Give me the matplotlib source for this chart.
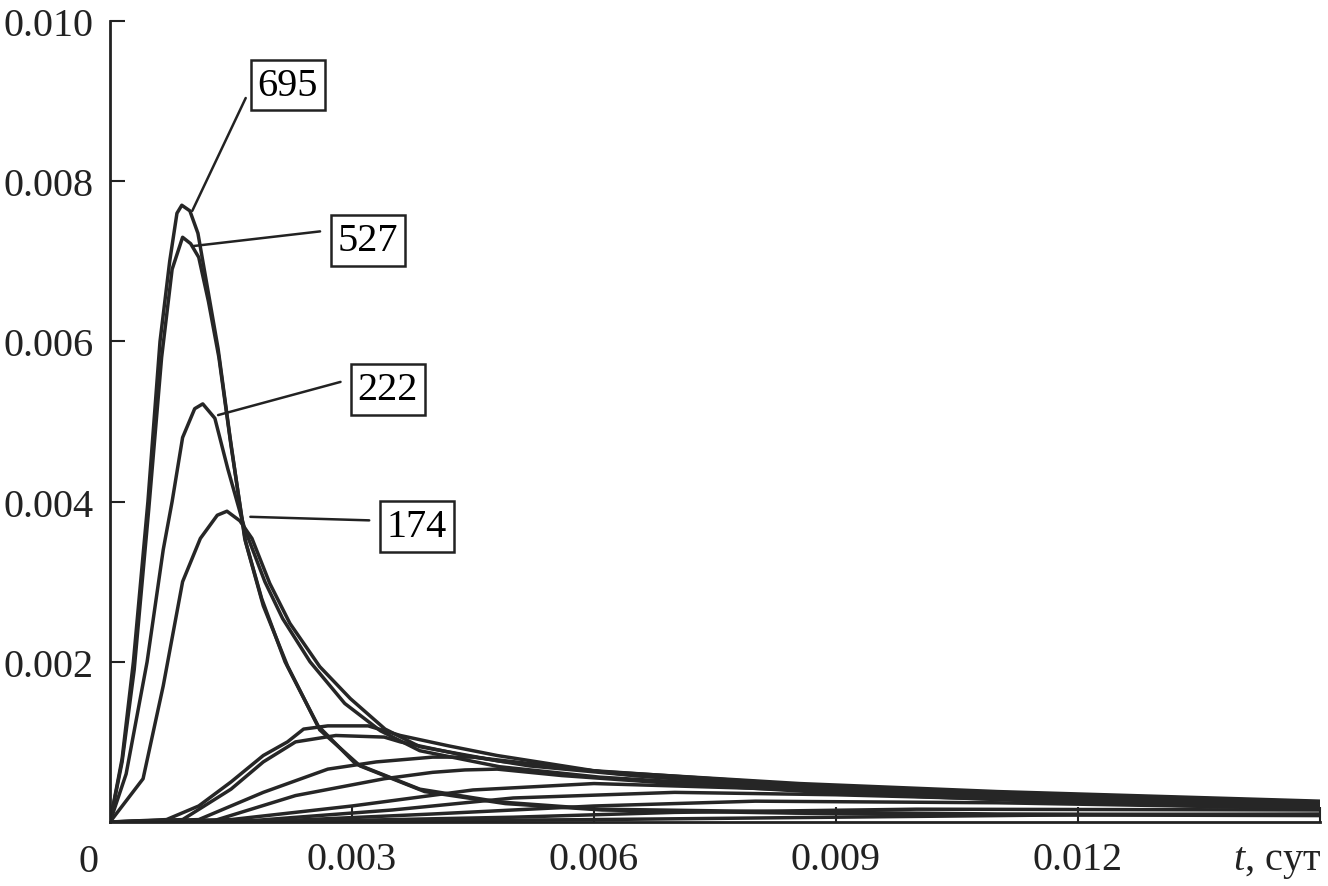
import matplotlib
matplotlib.use("Agg")
import matplotlib.pyplot as plt

plt.rcParams["font.family"] = ["Liberation Serif", "DejaVu Serif"]
plt.rcParams["mathtext.fontset"] = "custom"
plt.rcParams["mathtext.rm"] = "Liberation Serif"
plt.rcParams["mathtext.it"] = "Liberation Serif:italic"

# t, сут  and signal values
t_695 = [0, 0.00015, 0.00029, 0.00047, 0.00062, 0.00074, 0.00083, 0.00089, 0.00099, 0.00109,
         0.00121, 0.00134, 0.00149, 0.00167, 0.00188, 0.00217, 0.00258, 0.00304, 0.00384,
         0.00483, 0.00607, 0.00855, 0.0110, 0.0150]
v_695 = [0, 0.00079, 0.0020, 0.0040, 0.0060, 0.0070, 0.0076, 0.0077, 0.00763, 0.00735,
         0.00666, 0.00591, 0.00479, 0.00354, 0.00279, 0.0020, 0.0012, 0.00073, 0.00041,
         0.00025, 0.00016, 0.000125, 0.0001, 0.00009]

t_527 = [0, 0.00015, 0.0003, 0.00048, 0.00064, 0.00077, 0.0009, 0.001, 0.0011, 0.00122,
         0.00135, 0.0015, 0.00168, 0.0019, 0.0022, 0.0026, 0.0031, 0.0039, 0.0049, 0.0061,
         0.0085, 0.011, 0.015]
v_527 = [0, 0.00075, 0.0019, 0.0039, 0.0058, 0.0069, 0.0073, 0.00722, 0.00705, 0.0065,
         0.0058, 0.0047, 0.0035, 0.0027, 0.00195, 0.00115, 0.0007, 0.00038, 0.00023, 0.00015,
         0.00011, 0.00009, 0.00008]

t_222 = [0, 0.0002, 0.00046, 0.00066, 0.00077, 0.0009, 0.00105, 0.00115, 0.0013, 0.00146,
         0.00167, 0.00192, 0.00214, 0.00248, 0.00291, 0.00335, 0.00384, 0.00483, 0.00607,
         0.00855, 0.011, 0.015]
v_222 = [0, 0.0006, 0.0020, 0.0034, 0.0040, 0.0048, 0.00516, 0.00522, 0.00504, 0.00441,
         0.00366, 0.0030, 0.00254, 0.0020, 0.00148, 0.00114, 0.00089, 0.00069, 0.00056,
         0.00041, 0.00033, 0.00023]

t_174 = [0, 0.00041, 0.00066, 0.0009, 0.00112, 0.00133, 0.00145, 0.00161, 0.00176, 0.00198,
         0.00223, 0.0026, 0.00298, 0.00341, 0.00384, 0.00483, 0.00607, 0.00855, 0.011, 0.015]
v_174 = [0, 0.00054, 0.0017, 0.0030, 0.00354, 0.00383, 0.00388, 0.00376, 0.00354, 0.00298,
         0.00248, 0.00194, 0.00154, 0.00116, 0.00094, 0.00076, 0.00063, 0.00048, 0.00038, 0.00026]

# later, lower curves without labels
t_a = [0, 0.0007, 0.0011, 0.0015, 0.0019, 0.0022, 0.0024, 0.0027, 0.0032, 0.0036, 0.0042,
       0.0048, 0.006, 0.0085, 0.011, 0.015]
v_a = [0, 0.00003, 0.0002, 0.0005, 0.00083, 0.001, 0.00116, 0.0012, 0.0012, 0.00108,
       0.00095, 0.00083, 0.00064, 0.00047, 0.00037, 0.00025]
t_b = [0, 0.0009, 0.0015, 0.0019, 0.0023, 0.0028, 0.0034, 0.0036, 0.0044, 0.0052, 0.0065,
       0.0085, 0.011, 0.015]
v_b = [0, 0.00003, 0.00041, 0.00075, 0.001, 0.00108, 0.00106, 0.001, 0.00083, 0.0007,
       0.00058, 0.00044, 0.00034, 0.00021]
t_c = [0, 0.0011, 0.0019, 0.0027, 0.0033, 0.0040, 0.0045, 0.0052, 0.0065, 0.0085, 0.011, 0.015]
v_c = [0, 0.00003, 0.00037, 0.00066, 0.00075, 0.00081, 0.00081, 0.00073, 0.00058, 0.00042,
       0.00031, 0.00019]
t_d = [0, 0.0013, 0.0023, 0.0034, 0.0040, 0.0044, 0.0048, 0.0056, 0.007, 0.009, 0.012, 0.015]
v_d = [0, 0.00002, 0.00033, 0.00054, 0.00062, 0.00065, 0.00066, 0.00058, 0.00048, 0.00036,
       0.00024, 0.00016]
t_e = [0, 0.0015, 0.003, 0.0045, 0.006, 0.008, 0.011, 0.015]
v_e = [0, 0.00003, 0.0002, 0.0004, 0.00048, 0.00042, 0.00031, 0.0002]
t_f = [0, 0.0018, 0.0035, 0.005, 0.007, 0.009, 0.012, 0.015]
v_f = [0, 0.00002, 0.00015, 0.0003, 0.00037, 0.00034, 0.00026, 0.00019]
t_g = [0, 0.002, 0.004, 0.006, 0.008, 0.011, 0.015]
v_g = [0, 0.00001, 0.0001, 0.0002, 0.00026, 0.00024, 0.00017]
t_h = [0, 0.0025, 0.005, 0.007, 0.010, 0.015]
v_h = [0, 0.00001, 0.00006, 0.00012, 0.00016, 0.00015]
t_i = [0, 0.003, 0.006, 0.009, 0.012, 0.015]
v_i = [0, 0.00001, 0.00003, 0.00006, 0.00009, 0.0001]

curves = [(t_i, v_i), (t_h, v_h), (t_g, v_g), (t_f, v_f), (t_e, v_e), (t_d, v_d),
          (t_c, v_c), (t_b, v_b), (t_a, v_a), (t_174, v_174), (t_222, v_222),
          (t_527, v_527), (t_695, v_695)]

# label, point on curve, box position, where the leader meets the box
labels = ["695", "527", "222", "174"]
label_xy = [(0.00102, 0.00763), (0.00103, 0.00719), (0.00134, 0.00508), (0.00174, 0.00381)]
label_text = [(0.00183, 0.00920), (0.00282, 0.00726), (0.00307, 0.00540), (0.00343, 0.00369)]
label_rel = [0.83, 0.8, 0.83, 0.65]

x_ticks = [0.003, 0.006, 0.009, 0.012, 0.015]
x_ticklabels = ["0.003", "0.006", "0.009", "0.012", ""]
y_ticks = [0.002, 0.004, 0.006, 0.008, 0.010]
y_ticklabels = ["0.002", "0.004", "0.006", "0.008", "0.010"]

FS = 29
line_color = "#262626"

fig = plt.figure(figsize=(13.28, 8.87), dpi=100)
ax = fig.add_axes([110 / 1328, 1 - 823 / 887, 1210 / 1328, 801 / 887])

for t, v in curves:
    ax.plot(t, v, color=line_color, linewidth=2.5, solid_joinstyle="round")

for lab, xy, xyt, rel in zip(labels, label_xy, label_text, label_rel):
    ax.annotate(
        lab, xy=xy, xytext=xyt, fontsize=FS, ha="left", va="center",
        bbox=dict(boxstyle="square,pad=0.17", fc="white", ec="#222222", lw=1.8),
        arrowprops=dict(arrowstyle="-", color="#222222", lw=1.8, relpos=(0.0, rel),
                        shrinkA=7, shrinkB=0),
    )

ax.set_xlim(0, 0.015)
ax.set_ylim(0, 0.010)
ax.set_xticks(x_ticks)
ax.set_xticklabels(x_ticklabels)
ax.set_yticks(y_ticks)
ax.set_yticklabels(y_ticklabels)
ax.tick_params(direction="in", length=11, width=1.5, labelsize=FS, colors="#222222")
ax.tick_params(axis="y", pad=12)
ax.tick_params(axis="x", pad=14)
for side in ("top", "right"):
    ax.spines[side].set_visible(False)
for side in ("left", "bottom"):
    ax.spines[side].set_linewidth(2.0)
    ax.spines[side].set_color("#222222")

ax.text(-0.00027, -0.00026, "0", fontsize=FS, ha="center", va="top", color="#222222",
        clip_on=False)
ax.text(0.01502, -0.00026, "$t$, сут", fontsize=FS, ha="right", va="top", color="#222222",
        clip_on=False)

fig.savefig("out.png", dpi=100)
